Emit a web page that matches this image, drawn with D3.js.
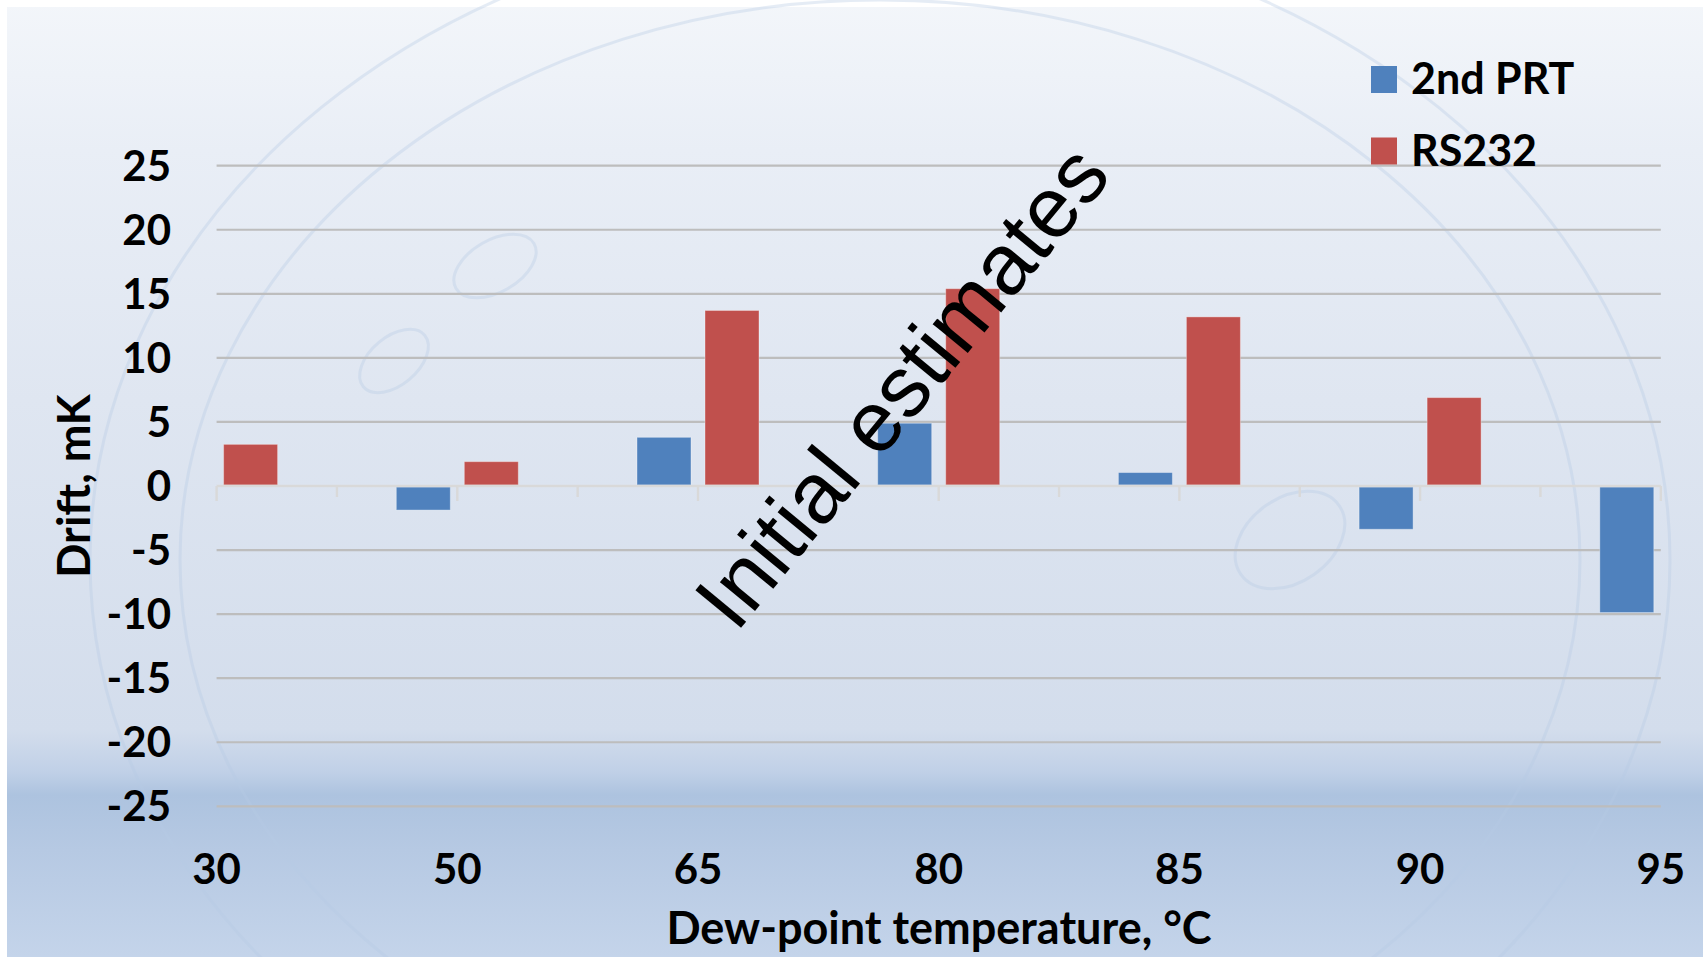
<!DOCTYPE html>
<html>
<head>
<meta charset="utf-8">
<script src="https://cdn.jsdelivr.net/npm/d3@7"></script>
<style>
  html, body { margin: 0; padding: 0; background: #ffffff; }
  svg { display: block; }
  .lbl { font-family: Lato, 'Open Sans', sans-serif; font-weight: 700; fill: #000; }
</style>
</head>
<body>
<div id="chart"></div>
<script>
// chart data
const categories = ['30', '50', '65', '80', '85', '90', '95'];
const seriesNames = ['2nd PRT', 'RS232'];
const prtDrift = [null, -1.8, 3.8, 4.9, 1.05, -3.3, -9.8];
const rs232Drift = [3.25, 1.9, 13.7, 15.4, 13.2, 6.9, null];
const yTicks = [25, 20, 15, 10, 5, 0, -5, -10, -15, -20, -25];
const seriesColors = ['#4f81bd', '#c0504d'];

const width = 1703, height = 957;

const svg = d3.select('#chart')
  .append('svg')
  .attr('width', width)
  .attr('height', height);

// slide background: soft blue gradient with a darker band near the bottom
const defs = svg.append('defs');
const grad = defs.append('linearGradient')
  .attr('id', 'bg')
  .attr('gradientUnits', 'userSpaceOnUse')
  .attr('x1', 0).attr('y1', 0).attr('x2', 0).attr('y2', height);
[[0, '#f3f6fa'], [150, '#e9eef6'], [400, '#dfe6f1'], [730, '#d3ddec'],
 [772, '#c0d0e7'], [795, '#adc3df'], [850, '#b6c9e3'], [957, '#c4d4ea']]
  .forEach(s => grad.append('stop').attr('offset', s[0] / height).attr('stop-color', s[1]));

svg.append('rect')
  .attr('x', 7).attr('y', 7)
  .attr('width', width - 7).attr('height', height - 7)
  .attr('fill', 'url(#bg)');

// faint watermark strokes behind the chart
const wm = svg.append('g')
  .attr('fill', 'none')
  .attr('stroke', '#b7cbe5')
  .attr('stroke-width', 3)
  .attr('opacity', 0.35);
wm.append('ellipse').attr('cx', 880).attr('cy', 560).attr('rx', 790).attr('ry', 640);
wm.append('ellipse').attr('cx', 880).attr('cy', 560).attr('rx', 700).attr('ry', 560);
wm.append('ellipse').attr('cx', 1290).attr('cy', 540).attr('rx', 60).attr('ry', 42)
  .attr('transform', 'rotate(-35,1290,540)');
wm.append('ellipse').attr('cx', 495).attr('cy', 266).attr('rx', 45).attr('ry', 26)
  .attr('transform', 'rotate(-30,495,266)');
wm.append('ellipse').attr('cx', 394).attr('cy', 361).attr('rx', 40).attr('ry', 24)
  .attr('transform', 'rotate(-40,394,361)');

// scales
const x = d3.scalePoint()
  .domain(categories)
  .range([216.6, 1660.8]);

const xInner = d3.scaleBand()
  .domain(seriesNames)
  .range([-61, 61])
  .paddingInner(0.206);

const y = d3.scaleLinear()
  .domain([-25, 25])
  .range([806.3, 165.7]);

// horizontal gridlines
svg.append('g')
  .selectAll('line')
  .data(yTicks.filter(d => d !== 0))
  .join('line')
  .attr('x1', x.range()[0])
  .attr('x2', x.range()[1])
  .attr('y1', d => y(d))
  .attr('y2', d => y(d))
  .attr('stroke', '#bdbdbd')
  .attr('stroke-width', 2.2);

// bars
const rows = categories.map((c, i) => ({cat: c, values: [prtDrift[i], rs232Drift[i]]}));
const groups = svg.append('g')
  .selectAll('g')
  .data(rows)
  .join('g')
  .attr('transform', d => 'translate(' + x(d.cat) + ',0)');

groups.selectAll('rect')
  .data(d => d.values.map((v, k) => ({name: seriesNames[k], value: v, k: k})).filter(e => e.value != null))
  .join('rect')
  .attr('x', d => xInner(d.name))
  .attr('width', xInner.bandwidth())
  .attr('y', d => d.value >= 0 ? y(d.value) : y(0) + 1)
  .attr('height', d => Math.abs(y(d.value) - y(0)) - (d.value >= 0 ? 1 : 0))
  .attr('fill', d => seriesColors[d.k])
  .attr('stroke', 'rgba(255,255,255,0.35)')
  .attr('stroke-width', 1);

// zero axis line with major and minor tick marks
const axisG = svg.append('g')
  .attr('transform', 'translate(0,' + y(0) + ')');
axisG.append('line')
  .attr('x1', x.range()[0])
  .attr('x2', x.range()[1])
  .attr('stroke', '#d9d9d9')
  .attr('stroke-width', 2.4);
const half = x.step() / 2;
const tickPos = [];
categories.forEach((c, i) => {
  tickPos.push({x: x(c), major: true});
  if (i < categories.length - 1) tickPos.push({x: x(c) + half, major: false});
});
axisG.selectAll('line.tick')
  .data(tickPos)
  .join('line')
  .attr('class', 'tick')
  .attr('x1', d => d.x)
  .attr('x2', d => d.x)
  .attr('y1', 0)
  .attr('y2', d => d.major ? 15 : 11)
  .attr('stroke', '#d9d9d9')
  .attr('stroke-width', 2.4);

// y tick labels
svg.append('g')
  .selectAll('text')
  .data(yTicks)
  .join('text')
  .attr('class', 'lbl')
  .attr('x', 171)
  .attr('y', d => y(d))
  .attr('dy', '0.36em')
  .attr('text-anchor', 'end')
  .style('font-size', '42px')
  .text(d => d);

// x category labels (under the plot, at the bottom)
svg.append('g')
  .selectAll('text')
  .data(categories)
  .join('text')
  .attr('class', 'lbl')
  .attr('x', d => x(d))
  .attr('y', 883.5)
  .attr('text-anchor', 'middle')
  .style('font-size', '42px')
  .text(d => d);

// axis titles
svg.append('text')
  .attr('class', 'lbl')
  .attr('x', 939)
  .attr('y', 943.5)
  .attr('text-anchor', 'middle')
  .style('font-size', '45px')
  .text('Dew-point temperature, °C');

svg.append('text')
  .attr('class', 'lbl')
  .attr('transform', 'translate(90,486) rotate(-90)')
  .attr('text-anchor', 'middle')
  .style('font-size', '45px')
  .text('Drift, mK');

// legend
const legend = svg.append('g')
  .selectAll('g')
  .data(seriesNames)
  .join('g')
  .attr('transform', (d, i) => 'translate(1371,' + (94 + i * 71.5) + ')');
legend.append('rect')
  .attr('x', 0)
  .attr('y', -28)
  .attr('width', 26)
  .attr('height', 27)
  .attr('fill', (d, i) => seriesColors[i]);
legend.append('text')
  .attr('class', 'lbl')
  .attr('x', 40)
  .attr('y', 0)
  .style('font-size', '43px')
  .text(d => d);

// diagonal annotation over the plot
svg.append('text')
  .attr('transform', 'translate(736,634) rotate(-50.5)')
  .attr('font-family', "'Liberation Sans', Arial, sans-serif")
  .attr('font-size', 86)
  .attr('fill', '#000')
  .text('Initial estimates');
</script>
</body>
</html>
